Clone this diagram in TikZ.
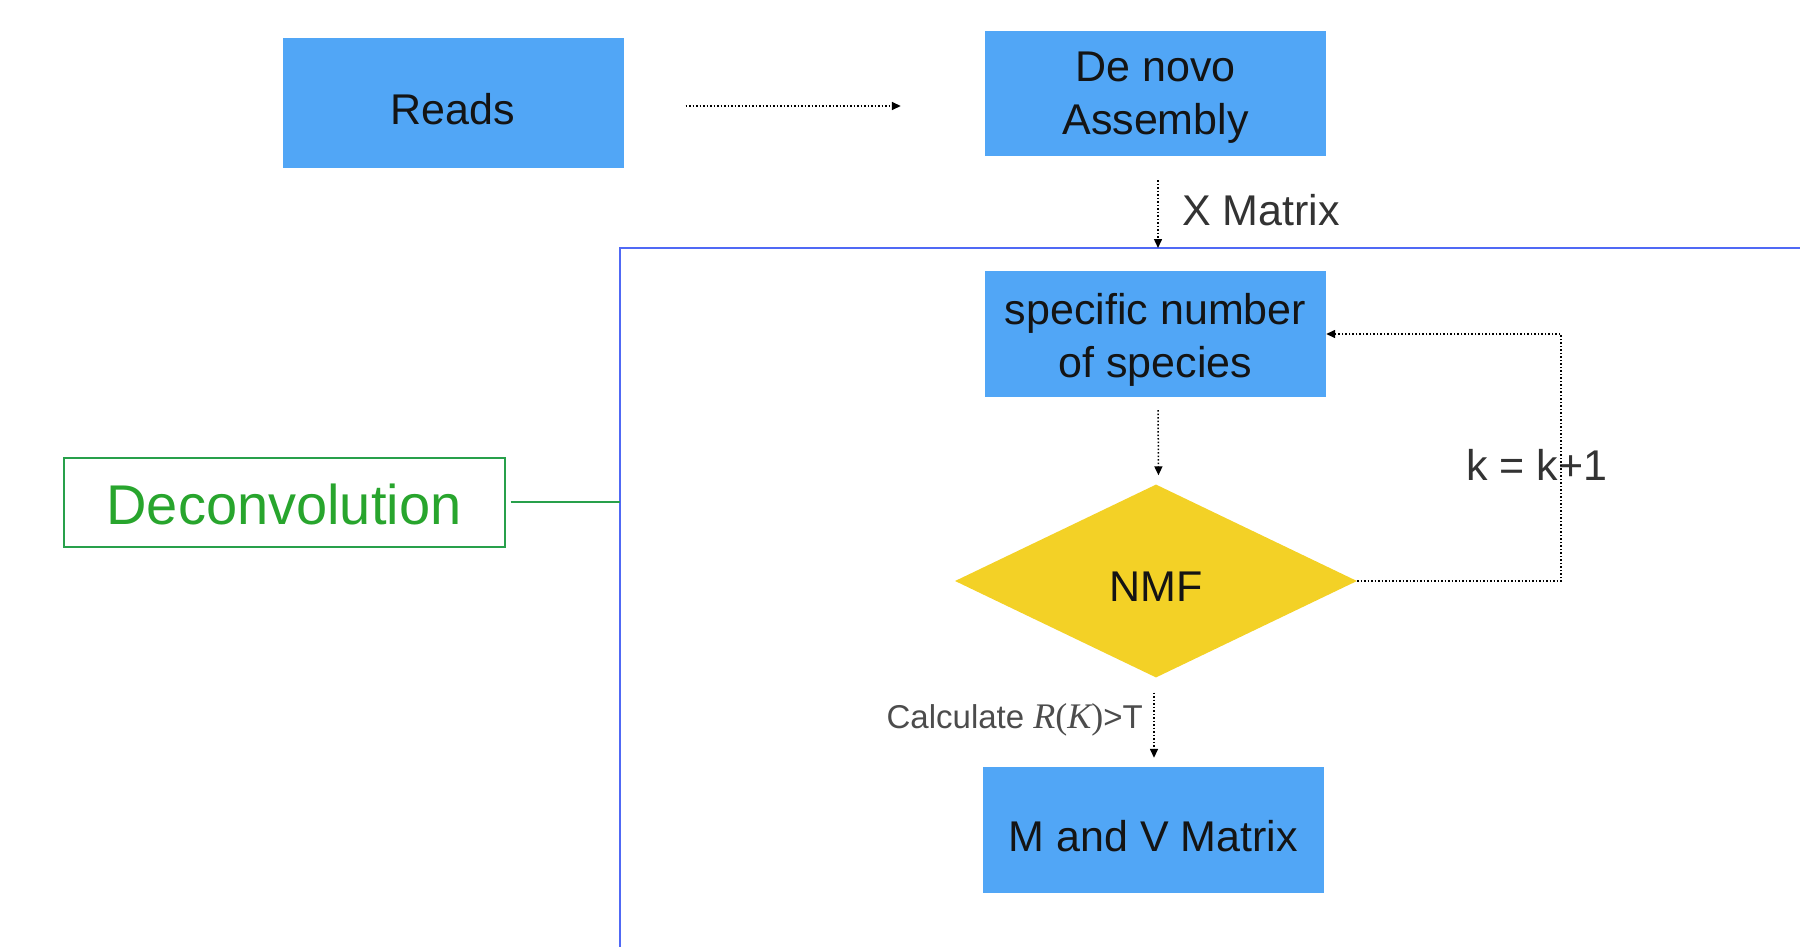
\documentclass[tikz,border=0pt]{standalone}
\usepackage{fontspec}
\setmainfont{Liberation Sans}
\newfontfamily\mathserif{Liberation Serif}
\usetikzlibrary{arrows.meta,shapes.geometric}
\definecolor{boxblue}{RGB}{81,166,246}
\definecolor{nmfyellow}{RGB}{243,209,38}
\definecolor{frameblue}{RGB}{80,105,245}
\definecolor{decgreen}{RGB}{40,160,75}
\definecolor{dectext}{RGB}{40,165,45}
\definecolor{txt}{RGB}{20,20,20}
\newcommand{\dn}[2][6pt]{\raisebox{-#1}[\height][\depth]{#2}}
\tikzset{
  bluebox/.style={draw=none, fill=boxblue, minimum width=341pt, inner sep=0pt, align=center,
     text=txt, font=\fontsize{43}{53}\selectfont},
  conn/.style={draw=black, line width=1.5pt, dash pattern=on 1.5pt off 2pt,
     -{Triangle[length=9pt,width=8pt]}},
  lbl/.style={text=black!80, font=\fontsize{43}{53}\selectfont, inner sep=0pt}
}
\begin{document}
\begin{tikzpicture}[x=1pt,y=-1pt]
\useasboundingbox (0,0) rectangle (1800,947);
% frame
\draw[frameblue, line width=2.5pt] (1805,248) -- (620,248) -- (620,952);
\coordinate (frameT) at (1158,248);
\coordinate (frameL) at (620,502);
% nodes
\node[bluebox, minimum height=130pt] (reads) at (453,103) {\dn{Reads}};
\node[bluebox, minimum height=125pt] (denovo) at (1155.5,93.5) {\dn[4pt]{De novo}\\\dn[4pt]{Assembly}};
\node[bluebox, minimum height=126pt] (species) at (1155.5,334) {\dn{specific number}\\\dn{of species}};
\node[diamond, fill=nmfyellow, minimum width=402pt, minimum height=193pt, inner sep=0pt,
      text=txt, font=\fontsize{43}{53}\selectfont] (nmf) at (1156,581) {\dn{NMF}};
\node[bluebox, minimum height=126pt] (mv) at (1153.5,830) {\dn{M and V Matrix}};
\node[draw=decgreen, line width=2pt, minimum width=441pt, minimum height=89pt, inner sep=0pt,
      text=dectext, font=\fontsize{56}{60}\selectfont] (decon) at (284,502) {\dn[2pt]{Deconvolution}};
% labels
\node[lbl, anchor=west] (xlab) at (1182,210) {X Matrix};
\node[lbl, anchor=west] (klab) at (1466,465) {k = k+1};
\node[anchor=east, inner sep=0pt, text=black!70, font=\fontsize{33}{38}\selectfont] (calc) at (1143,720)
  {Calculate {\mathserif\fontsize{36}{38}\selectfont\itshape R}{\mathserif\fontsize{36}{38}\selectfont(}{\mathserif\fontsize{36}{38}\selectfont\itshape K}{\mathserif\fontsize{36}{38}\selectfont)}>T};
% connectors
\draw[conn, shorten <=62pt, shorten >=84pt] ([yshift=-3pt]reads.east) -- ([yshift=-3pt]reads.east -| denovo.west);
\draw[conn, shorten <=24pt] ([xshift=2.5pt]denovo.south) -- (frameT);
\draw[conn, shorten <=13pt, shorten >=9pt] ([xshift=2.5pt]species.south) -- ([xshift=2.5pt]nmf.north);
\draw[conn, shorten <=15pt, shorten >=9pt] ([xshift=-2pt]nmf.south) -- ([xshift=0.5pt]mv.north);
\coordinate (kr) at (1561,581);
\draw[conn] (nmf.east) -- (kr) |- (species.east);
\draw[decgreen, line width=2pt, shorten <=5pt] (decon.east) -- (frameL);
\end{tikzpicture}
\end{document}
